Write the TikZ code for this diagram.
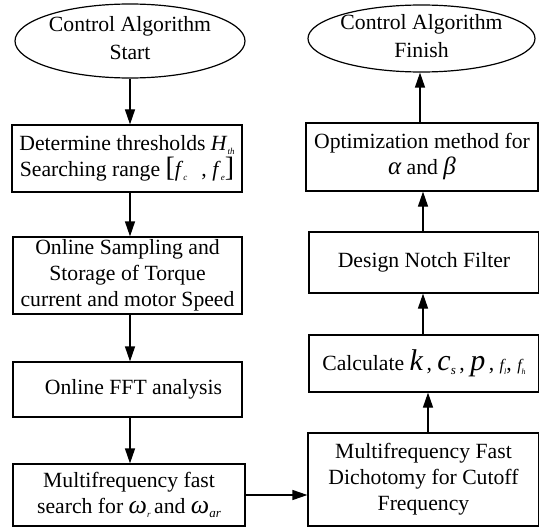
\documentclass[tikz,border=0pt]{standalone}
\usepackage{fontspec}
\setmainfont{Liberation Serif}
\usetikzlibrary{arrows.meta,shapes.geometric}

% text sizes used in the flow chart
\newcommand{\bodysize}{\fontsize{21.7}{26}\selectfont}
\newcommand{\ovalsize}{\fontsize{21.7}{28}\selectfont}
\newcommand{\symbig}[1]{{\fontsize{30}{30}\selectfont\itshape #1}}
\newcommand{\symmid}[1]{{\fontsize{26}{26}\selectfont\itshape #1}}
\newcommand{\symsmall}[1]{{\fontsize{16}{16}\selectfont\itshape #1}}
% small italic index set below the baseline
\newcommand{\idx}[2][10]{\raisebox{-3.5pt}{\fontsize{#1}{#1}\selectfont\itshape #2}}
\newcommand{\tallbr}[1]{{\fontsize{28}{28}\selectfont #1}}

\begin{document}
\begin{tikzpicture}[x=1pt,y=-1pt,
  box/.style={draw, line width=1.2pt, rectangle, align=center, inner sep=0pt, font=\bodysize},
  oval/.style={draw, line width=1.2pt, ellipse, inner sep=0pt},
  ovaltext/.style={align=center, font=\ovalsize},
  arr/.style={-{Triangle[width=10pt,length=15pt]}, line width=1.2pt}]
\useasboundingbox (0,0) rectangle (539,527);

% left column
\node[oval, minimum width=230pt, minimum height=74pt] (start) at (130,41) {};
\node[ovaltext] (starttxt) at ([yshift=3pt]start.center) {Control Algorithm\\Start};
\node[box, minimum width=230pt, minimum height=67pt] (thr) at (127,158.5)
  {Determine thresholds \textit{H}\idx[9]{th}\\Searching range \tallbr{[}\textit{f}\idx[9]{c}\hspace{14pt}, \textit{f}\idx[9]{e}\tallbr{]}};
\node[box, minimum width=229pt, minimum height=77pt] (samp) at (127.5,275.5)
  {Online Sampling and\\Storage of Torque\\current and motor Speed};
\node[box, minimum width=229pt, minimum height=55pt] (fft) at (127.5,389.5)
  {\hspace{12pt}Online FFT analysis};
\node[box, minimum width=232pt, minimum height=62pt] (search) at (129,495)
  {Multifrequency fast\\search for \symmid{ω}\idx[9]{r}\,and \symmid{ω}\idx[13]{ar}};

% right column
\node[oval, minimum width=227pt, minimum height=67pt] (finish) at (421.5,38.5) {};
\node[ovaltext] (finishtxt) at ([yshift=2pt]finish.center) {Control Algorithm\\Finish};
\node[box, minimum width=232pt, minimum height=68pt] (opt) at (422,157)
  {Optimization method for\\{\fontsize{25}{25}\selectfont\itshape α} and {\fontsize{25}{25}\selectfont\itshape β}};
\node[box, minimum width=230pt, minimum height=61pt] (notch) at (424,262.5)
  {Design Notch Filter};
\node[box, minimum width=230pt, minimum height=57pt] (calc) at (424,363.5)
  {Calculate \symbig{k}\,, \symbig{c}\idx[13]{s}\,, \symbig{p}\,, \symsmall{f}\idx[8]{l}, \symsmall{f}\idx[8]{h}};
\node[box, minimum width=231pt, minimum height=93pt] (dicho) at (423.5,479.5)
  {Multifrequency Fast\\Dichotomy for Cutoff\\Frequency};

% connectors
\draw[arr] (start.south -| 130,0) -- (thr.north -| 130,0);
\draw[arr] (thr.south -| 130,0) -- (samp.north -| 130,0);
\draw[arr] (samp.south -| 130,0) -- (fft.north -| 130,0);
\draw[arr] (fft.south -| 130,0) -- (search.north -| 130,0);
\draw[arr] (search.east) -- (dicho.west |- search.east);
\draw[arr] (dicho.north -| 428,0) -- (calc.south -| 428,0);
\draw[arr] (calc.north -| 423,0) -- (notch.south -| 423,0);
\draw[arr] (notch.north -| 423,0) -- (opt.south -| 423,0);
\draw[arr] (opt.north -| 420,0) -- (finish.south -| 420,0);
\end{tikzpicture}
\end{document}
